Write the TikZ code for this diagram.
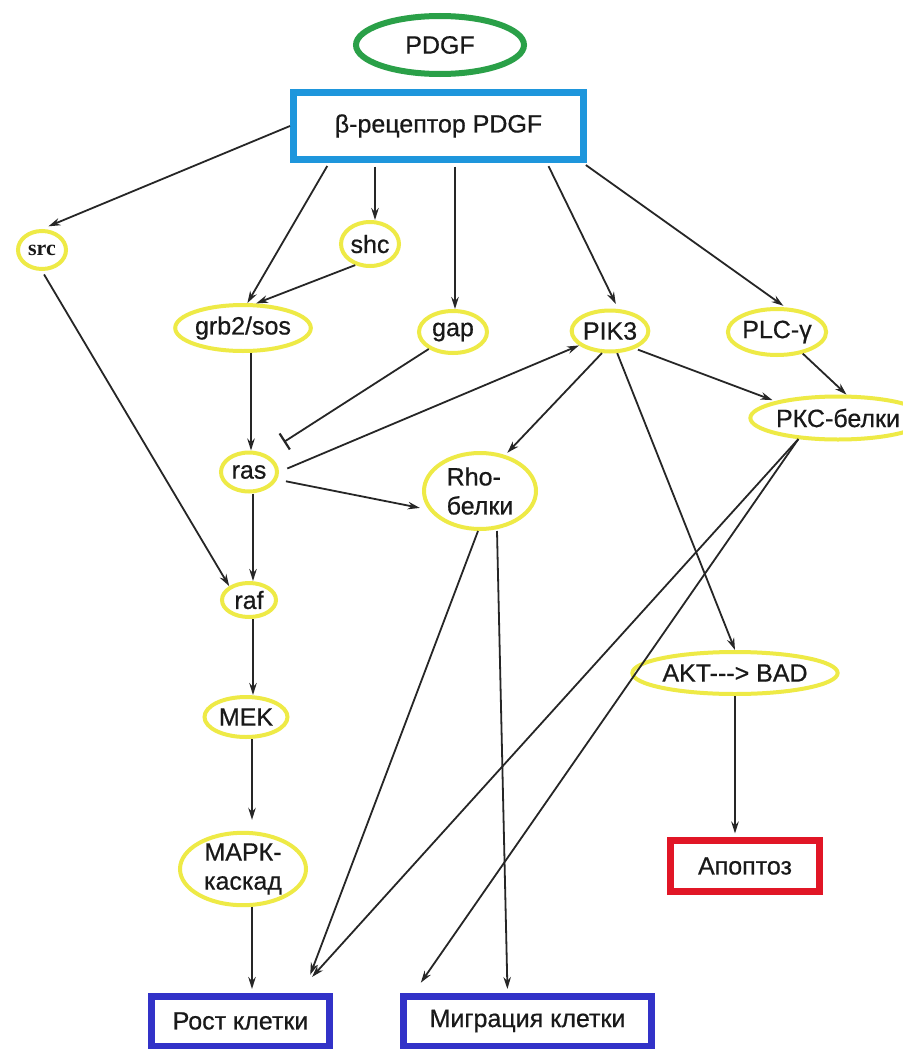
\documentclass[tikz,border=0pt]{standalone}
\usepackage{fontspec}
\setmainfont{Liberation Sans}[FakeBold=0.6]
\newfontfamily\serifbold{Liberation Serif}
\usetikzlibrary{shapes.geometric,arrows.meta}
\definecolor{grn}{RGB}{42,160,72}
\definecolor{cyanbox}{RGB}{30,150,220}
\definecolor{yel}{RGB}{238,234,70}
\definecolor{redbox}{RGB}{225,22,38}
\definecolor{bluebox}{RGB}{50,50,200}
\definecolor{txt}{RGB}{25,25,25}
\tikzset{
  lbl/.style={font=\fontsize{25}{29}\selectfont, text=txt},
  oval/.style={lbl, ellipse, draw=yel, line width=4pt, inner sep=0pt},
  boxnode/.style={lbl, rectangle, line width=7pt, inner sep=0pt},
  arr/.style={-{Stealth[length=12pt,width=7.5pt]}, line width=1.8pt, draw=black!85},
  inhib/.style={-{Bar[width=19pt,line width=2.2pt]}, line width=1.8pt, draw=black!85},
}
\begin{document}
\begin{tikzpicture}[x=1pt,y=-1pt]
\useasboundingbox[fill=white] (0,0) rectangle (902,1049);

% nodes
\node[lbl, ellipse, draw=grn, line width=6pt, inner sep=0pt, minimum width=168pt, minimum height=58pt] (pdgf) at (440,45) {PDGF};
\node[boxnode, draw=cyanbox, minimum width=290pt, minimum height=67pt] (rec) at (438.5,126) {β-рецептор PDGF};

\node[oval, minimum width=48pt, minimum height=38pt, font=\serifbold\bfseries\fontsize{22}{24}\selectfont] (src) at (42,250) {src};
\node[oval, minimum width=58pt, minimum height=44pt] (shc) at (370,244) {shc};
\node[oval, minimum width=119pt, minimum height=46pt] (grb) at (243,328) {grb2/sos};
\node[oval, minimum width=68pt, minimum height=42pt] (gap) at (453,332) {gap};
\node[oval, minimum width=70pt, minimum height=41pt] (pik) at (610,331) {PIK3};
\node[oval, minimum width=83pt, minimum height=46pt] (plc) at (777,332) {PLC-γ};
\node[oval, minimum width=142pt, minimum height=43pt] (pkc) at (838,418) {РКС-белки};

\node[oval, minimum width=56pt, minimum height=39pt] (ras) at (249,472) {ras};
\node[oval, minimum width=112pt, minimum height=76pt, align=left] (rho) at (480,491) {Rho-\\белки};
\node[oval, minimum width=54pt, minimum height=34pt] (raf) at (249,600) {raf};
\node[oval, minimum width=83pt, minimum height=40pt] (mek) at (246,717) {MEK};
\node[oval, minimum width=174pt, minimum height=42pt] (akt) at (735,673) {AKT{-}{-}{-}> BAD};
\node[oval, minimum width=126pt, minimum height=70pt, align=center] (mapk) at (243,869) {МАРК-\\каскад};

\node[boxnode, draw=redbox, minimum width=149pt, minimum height=51pt] (apo) at (745,866) {Апоптоз};
\node[boxnode, draw=bluebox, minimum width=178pt, minimum height=50pt] (rost) at (240.5,1021) {Рост клетки};
\node[boxnode, draw=bluebox, minimum width=248pt, minimum height=50pt] (mig) at (527.5,1021) {Миграция клетки};

% connectors from receptor
\draw[arr, shorten >=7pt] (rec.west) -- (src.north);
\draw[arr, shorten <=3.5pt] ([xshift=39pt]rec.south west) -- (grb.80);
\draw[arr, shorten <=3.5pt] ([xshift=85pt]rec.south west) -- ([xshift=5pt]shc.north);
\draw[arr, shorten <=3.5pt] ([xshift=165pt]rec.south west) -- ([xshift=2pt]gap.north);
\draw[arr, shorten <=3.5pt, shorten >=5pt] ([xshift=257pt]rec.south west) -- ([xshift=8pt]pik.north);
\draw[arr, shorten <=3.5pt, shorten >=2pt] ([xshift=-4pt]rec.south east) -- ([xshift=8pt]plc.north);

% middle layer
\draw[arr] (shc.235) -- (grb.62);
\draw[arr, shorten <=4pt] (src.south) -- (raf.145);
\draw[arr] ([xshift=8pt]grb.south) -- ([xshift=2pt]ras.north);
\draw[inhib, shorten >=22pt] (gap.215) -- (ras.48);
\draw[arr, shorten <=9pt] (ras.east) -- (pik.205);
\draw[arr, shorten <=9pt, shorten >=9pt] (ras.-15) -- (rho.200);
\draw[arr, shorten >=3pt] (pik.250) -- (rho.55);
\draw[arr, shorten <=3pt, shorten >=3pt] (pik.-35) -- (pkc.165);
\draw[arr] (pik.-72) -- (akt.north);
\draw[arr] (plc.-40) -- (pkc.70);

% left column
\draw[arr] ([xshift=4pt]ras.south) -- ([xshift=4pt]raf.north);
\draw[arr] ([xshift=4pt]raf.south) -- ([xshift=7pt]mek.north);
\draw[arr, shorten >=11pt] ([xshift=6pt]mek.south) -- ([xshift=9pt]mapk.north);
\draw[arr, shorten >=3.5pt] ([xshift=9pt]mapk.south) -- ([xshift=11.5pt]rost.north);

% outputs
\draw[arr, shorten >=19pt] ([xshift=-2pt]rho.south) -- ([xshift=63pt]rost.north);
\draw[arr, shorten >=3.5pt] ([xshift=17pt]rho.south) -- ([xshift=-20pt]mig.north);
\draw[arr, shorten >=21pt] (pkc.208) -- ([xshift=57.5pt]rost.north);
\draw[arr, shorten >=12pt] (pkc.208) -- ([xshift=-113.5pt]mig.north);
\draw[arr, shorten >=3.5pt] ([xshift=-10pt]apo.north |- akt.south) -- ([xshift=-10pt]apo.north);
\end{tikzpicture}
\end{document}
